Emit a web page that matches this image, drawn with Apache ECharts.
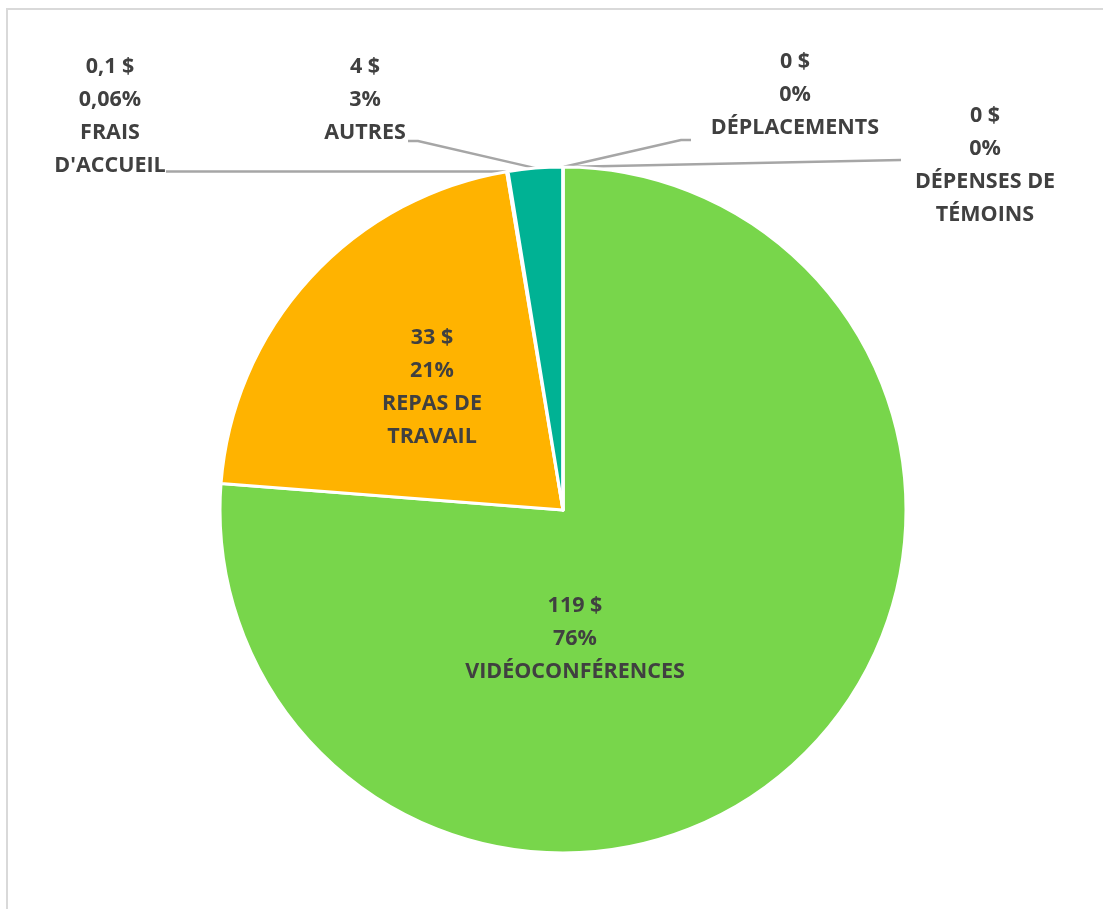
<!DOCTYPE html>
<html>
<head>
<meta charset="utf-8">
<script src="https://cdn.jsdelivr.net/npm/echarts@6/dist/echarts.min.js"></script>
<style>
  html, body { margin: 0; padding: 0; background: #fff; }
  #frame { position: absolute; left: 6px; top: 8px; width: 1097px; height: 901px;
           border-left: 2px solid #d9d9d9; border-top: 2px solid #d9d9d9; pointer-events: none; }
  #pie_main { position: absolute; left: 0; top: 0; width: 1103px; height: 909px; }
</style>
</head>
<body>
<div id="pie_main"></div>
<div id="frame"></div>
<script>
// données
var categories = ['VIDÉOCONFÉRENCES', 'REPAS DE\nTRAVAIL', 'FRAIS\nD\'ACCUEIL', 'AUTRES', 'DÉPLACEMENTS', 'DÉPENSES DE\nTÉMOINS'];
var values = [119, 33, 0.1, 4, 0, 0];
var colors = ['#78D64B', '#FFB300', '#A5A5A5', '#00B294', '#5B9BD5', '#4472C4'];

// position des étiquettes (centre du bloc de texte)
var labelPos = [[575, 639], [432, 387], [110, 116], [365, 100], [795, 95], [985, 165]];

var total = values.reduce(function (s, v) { return s + v; }, 0);

function fmtNum(v) {
    return String(v).replace('.', ',');
}
function fmtPct(v) {
    var p = v / total * 100;
    if (p > 0 && p < 1) return p.toFixed(2).replace('.', ',') + '%';
    return Math.round(p) + '%';
}

var pieChart = echarts.init(document.getElementById('pie_main'));
pieChart.setOption({
    animation: false,
    color: colors,
    series: [{
        type: 'pie',
        center: [563, 510],
        radius: 343,
        startAngle: 90,
        clockwise: true,
        avoidLabelOverlap: false,
        itemStyle: { borderColor: '#fff', borderWidth: 3 },
        label: {
            show: true,
            position: 'outside',
            color: '#404040',
            fontFamily: 'Open Sans',
            fontWeight: 'bold',
            fontSize: 21.5,
            lineHeight: 33,
            align: 'center',
            formatter: function (p) {
                return fmtNum(p.value) + ' $\n' + fmtPct(p.value) + '\n' + p.name;
            }
        },
        labelLine: {
            show: true,
            length: 20,
            length2: 20,
            lineStyle: { color: '#A6A6A6', width: 2.5 }
        },
        labelLayout: function (params) {
            var i = params.dataIndex;
            var pos = labelPos[i];
            var res = { x: pos[0], y: pos[1], align: 'center', verticalAlign: 'middle' };
            var pts = params.labelLinePoints;
            if (pts && pts.length) {
                var a = pts[0];
                if (i === 2) res.labelLinePoints = [a, [166, a[1]]];
                if (i === 3) res.labelLinePoints = [a, [418, 141], [408, 141]];
                if (i === 4) res.labelLinePoints = [a, [681, 140], [691, 140]];
                if (i === 5) res.labelLinePoints = [a, [901, 160]];
            }
            return res;
        },
        data: categories.map(function (c, i) {
            var d = { name: c, value: values[i] };
            if (i < 2) {
                d.label = { position: 'inside' };
                d.labelLine = { show: false };
            }
            return d;
        })
    }]
});
window.addEventListener('resize', function () {
    pieChart.resize();
});
</script>
</body>
</html>
